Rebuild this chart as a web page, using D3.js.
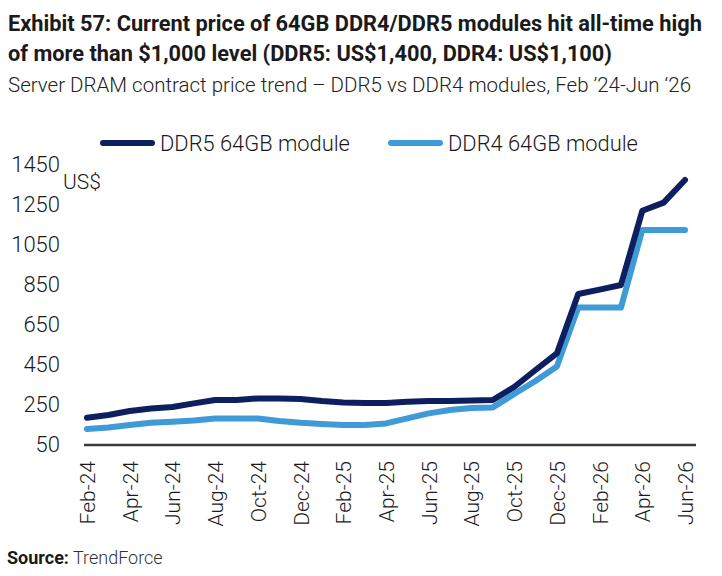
<!DOCTYPE html>
<html>
<head>
<meta charset="utf-8">
<script src="https://cdn.jsdelivr.net/npm/d3@7"></script>
<style>
  html, body { margin: 0; padding: 0; background: #fff; }
  svg { display: block; }
  text { font-family: Roboto, "Liberation Sans", Arial, sans-serif; fill: #1a1a1a; }
</style>
</head>
<body>
<svg id="chart" width="722" height="576"></svg>
<script>
// ---- data ----
const months = ["Feb-24","Mar-24","Apr-24","May-24","Jun-24","Jul-24","Aug-24","Sep-24","Oct-24","Nov-24","Dec-24",
  "Jan-25","Feb-25","Mar-25","Apr-25","May-25","Jun-25","Jul-25","Aug-25","Sep-25","Oct-25","Nov-25","Dec-25",
  "Jan-26","Feb-26","Mar-26","Apr-26","May-26","Jun-26"];
const ddr5 = [181,195,215,228,235,253,270,270,278,278,275,265,258,255,255,261,265,265,267,270,335,420,503,800,822,845,1216,1257,1370];
const ddr4 = [125,133,145,156,161,168,178,178,178,165,156,150,145,145,153,178,203,220,230,233,300,365,437,732,732,732,1120,1120,1120];
const xTickLabels = ["Feb-24","Apr-24","Jun-24","Aug-24","Oct-24","Dec-24","Feb-25","Apr-25","Jun-25","Aug-25","Oct-25","Dec-25","Feb-26","Apr-26","Jun-26"];
const yTicks = [50,250,450,650,850,1050,1250,1450];
const seriesNames = ["DDR5 64GB module","DDR4 64GB module"];
const seriesColors = ["#0e1f5f","#3f9ad8"];
const titleLines = ["Exhibit 57: Current price of 64GB DDR4/DDR5 modules hit all-time high",
  "of more than $1,000 level (DDR5: US$1,400, DDR4: US$1,100)"];
const subtitle = "Server DRAM contract price trend \u2013 DDR5 vs DDR4 modules, Feb \u201924-Jun \u201826";

// ---- drawing ----
const svg = d3.select("#chart");

const x = d3.scalePoint().domain(months).range([87, 685]);
const y = d3.scaleLinear().domain([50, 1450]).range([444, 164]);

// fit a text to a target width by adjusting its font size
function fitSize(sel, w, base) {
  const len = sel.node().getComputedTextLength();
  sel.style("font-size", (base * w / len).toFixed(2) + "px");
}

// titles
const t1 = svg.append("text").attr("x", 8).attr("y", 31)
  .style("font-weight", "700").style("font-size", "22px").text(titleLines[0]);
const t2 = svg.append("text").attr("x", 8).attr("y", 61)
  .style("font-weight", "700").style("font-size", "22px").text(titleLines[1]);
const st = svg.append("text").attr("x", 8).attr("y", 92)
  .style("font-size", "21px").style("font-weight", "300").style("fill", "#222").text(subtitle);
fitSize(t1, 694, 22); fitSize(t2, 604, 22); fitSize(st, 683, 21);

// y axis
const yAxis = svg.append("g").attr("transform", "translate(60,0)")
  .call(d3.axisLeft(y).tickValues(yTicks).tickSize(0).tickPadding(0).tickFormat(d3.format("d")));
yAxis.select(".domain").remove();
yAxis.selectAll("text").style("font-size", "22px").style("font-family", "Roboto, sans-serif")
  .style("font-weight", "300").attr("fill", "#1a1a1a").attr("dy", "0.36em");

svg.append("text").attr("x", 63).attr("y", 189).style("font-size", "21px")
  .style("font-weight", "300").text("US$");

// x axis
const xAxis = svg.append("g").attr("transform", `translate(0,${y(50)})`)
  .call(d3.axisBottom(x).tickValues(xTickLabels).tickSize(0).tickPadding(0));
xAxis.select(".domain").remove();
xAxis.selectAll("text")
  .style("font-size", "21px").style("font-family", "Roboto, sans-serif").style("font-weight", "300")
  .attr("fill", "#1a1a1a")
  .attr("transform", "rotate(-90)")
  .attr("x", -17).attr("y", 0).attr("dy", "0.36em")
  .attr("text-anchor", "end");
svg.append("line")
  .attr("x1", x.range()[0] - 3).attr("x2", x.range()[1] + 11)
  .attr("y1", y(50) + 1).attr("y2", y(50) + 1)
  .attr("stroke", "#3a3a3a").attr("stroke-width", 2.5);

// lines
const line = d3.line().x((d, i) => x(months[i])).y(d => y(d));
[[ddr4, 1], [ddr5, 0]].forEach(([s, idx]) => {
  svg.append("path").datum(s).attr("d", line)
    .attr("fill", "none").attr("stroke", seriesColors[idx]).attr("stroke-width", 6)
    .attr("stroke-linejoin", "round").attr("stroke-linecap", "round");
});

// legend
const legendX = [103, 391];
seriesNames.forEach((name, i) => {
  svg.append("line").attr("x1", legendX[i]).attr("x2", legendX[i] + 49)
    .attr("y1", 143).attr("y2", 143)
    .attr("stroke", seriesColors[i]).attr("stroke-width", 6).attr("stroke-linecap", "round");
  const t = svg.append("text").attr("x", legendX[i] + 57).attr("y", 143).attr("dy", "0.36em")
    .style("font-size", "22px").style("font-weight", "300").text(name);
  fitSize(t, 190, 22);
});

// source
const src = svg.append("text").attr("x", 7).attr("y", 564).style("font-size", "18px");
src.append("tspan").style("font-weight", "700").text("Source:");
src.append("tspan").text(" TrendForce").style("fill", "#333").style("font-weight", "300");
</script>
</body>
</html>
